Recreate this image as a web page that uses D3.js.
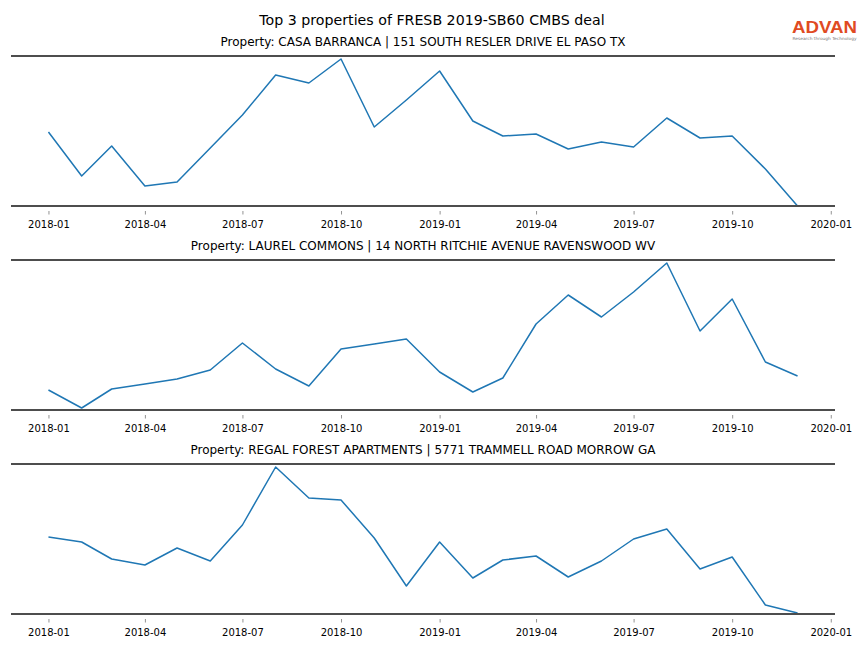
<!DOCTYPE html>
<html>
<head>
<meta charset="utf-8">
<script src="https://cdn.jsdelivr.net/npm/d3@7"></script>
<style>
  html, body { margin: 0; padding: 0; background: #fff; }
  svg { display: block; font-family: "DejaVu Sans", sans-serif; }
</style>
</head>
<body>
<svg id="chart" width="864" height="648"></svg>
<script>
// ---- Data (monthly index values; no y scale shown) ----
const months = ["2018-01","2018-02","2018-03","2018-04","2018-05","2018-06",
                "2018-07","2018-08","2018-09","2018-10","2018-11","2018-12",
                "2019-01","2019-02","2019-03","2019-04","2019-05","2019-06",
                "2019-07","2019-08","2019-09","2019-10","2019-11","2019-12"];

const chartTitle = "Top 3 properties of FRESB 2019-SB60 CMBS deal";

const propertyNames = [
  "Property: CASA BARRANCA | 151 SOUTH RESLER DRIVE EL PASO TX",
  "Property: LAUREL COMMONS | 14 NORTH RITCHIE AVENUE RAVENSWOOD WV",
  "Property: REGAL FOREST APARTMENTS | 5771 TRAMMELL ROAD MORROW GA"
];

const casaBarranca = [74, 30, 60, 20, 24, 58, 91, 131, 123, 147, 79, 106,
                      135, 85, 70, 72, 57, 64, 59, 88, 68, 70, 37, 0];
const laurelCommons = [20, 2, 21, 26, 31, 40, 67, 41, 24, 61, 66, 71,
                       38, 18, 32, 86, 115, 93, 118, 147, 79, 111, 48, 34];
const regalForest = [77, 72, 55, 49, 66, 53, 89, 147, 116, 114, 76, 28,
                     72, 36, 54, 58, 37, 53, 75, 85, 45, 57, 9, 1];

const seriesList = [casaBarranca, laurelCommons, regalForest];

const tickLabels = ["2018-01","2018-04","2018-07","2018-10","2019-01",
                    "2019-04","2019-07","2019-10","2020-01"];

// ---- Layout ----
const W = 864;
const left = 11, right = 835;
const panelTops = [56, 260, 464];
const panelH = 150;

const parse = d3.timeParse("%Y-%m");
const dates = months.map(parse);
const tickDates = tickLabels.map(parse);

const svg = d3.select("#chart");

svg.append("text")
  .attr("x", W / 2).attr("y", 24.5)
  .attr("text-anchor", "middle")
  .attr("font-size", 14.2)
  .attr("fill", "#000")
  .text(chartTitle);

// Logo
const logo = svg.append("g");
logo.append("text")
  .attr("x", 824.5).attr("y", 33)
  .attr("text-anchor", "middle")
  .attr("font-family", "Liberation Sans, Arial, sans-serif")
  .attr("font-size", 17)
  .attr("font-weight", "bold")
  .attr("textLength", 65)
  .attr("lengthAdjust", "spacingAndGlyphs")
  .attr("fill", "#e04a22")
  .text("ADVAN");
logo.append("text")
  .attr("x", 824.5).attr("y", 39.5)
  .attr("text-anchor", "middle")
  .attr("font-size", 4.2)
  .attr("textLength", 64)
  .attr("lengthAdjust", "spacingAndGlyphs")
  .attr("fill", "#777")
  .text("Research through Technology");

// x extent with 5% margins like matplotlib
const t0 = dates[0], t1 = dates[dates.length - 1];
const span = t1 - t0;
const x = d3.scaleTime()
  .domain([new Date(+t0 - 0.05 * span), new Date(+t1 + 0.05 * span)])
  .range([left, right]);

seriesList.forEach((vals, i) => {
  const top = panelTops[i];
  const g = svg.append("g");
  const y = d3.scaleLinear().domain([0, 150]).range([top + panelH, top]);

  // subtitle
  g.append("text")
    .attr("x", (left + right) / 2).attr("y", top - 10)
    .attr("text-anchor", "middle")
    .attr("font-size", 12)
    .attr("fill", "#000")
    .text(propertyNames[i]);

  // x axis (ticks and labels)
  const axis = d3.axisBottom(x)
    .tickValues(tickDates)
    .tickFormat(d3.timeFormat("%Y-%m"))
    .tickSize(3.5)
    .tickPadding(6);
  const ax = g.append("g")
    .attr("transform", `translate(0,${top + panelH + 5})`)
    .call(axis);
  ax.select(".domain").remove();
  ax.selectAll(".tick line").attr("stroke", "#777").attr("stroke-width", 0.8);
  ax.selectAll(".tick text")
    .attr("font-family", "DejaVu Sans, sans-serif")
    .attr("font-size", 10)
    .attr("fill", "#000");

  // line
  const line = d3.line()
    .x((d, j) => x(dates[j]))
    .y(d => y(d));
  g.append("path")
    .datum(vals)
    .attr("fill", "none")
    .attr("stroke", "#1f77b4")
    .attr("stroke-width", 1.5)
    .attr("stroke-linejoin", "round")
    .attr("d", line);

  // top & bottom spines
  [top, top + panelH].forEach(yy => {
    g.append("line")
      .attr("x1", left).attr("x2", right)
      .attr("y1", yy).attr("y2", yy)
      .attr("stroke", "#4d4d4d")
      .attr("stroke-width", 2);
  });
});
</script>
</body>
</html>
